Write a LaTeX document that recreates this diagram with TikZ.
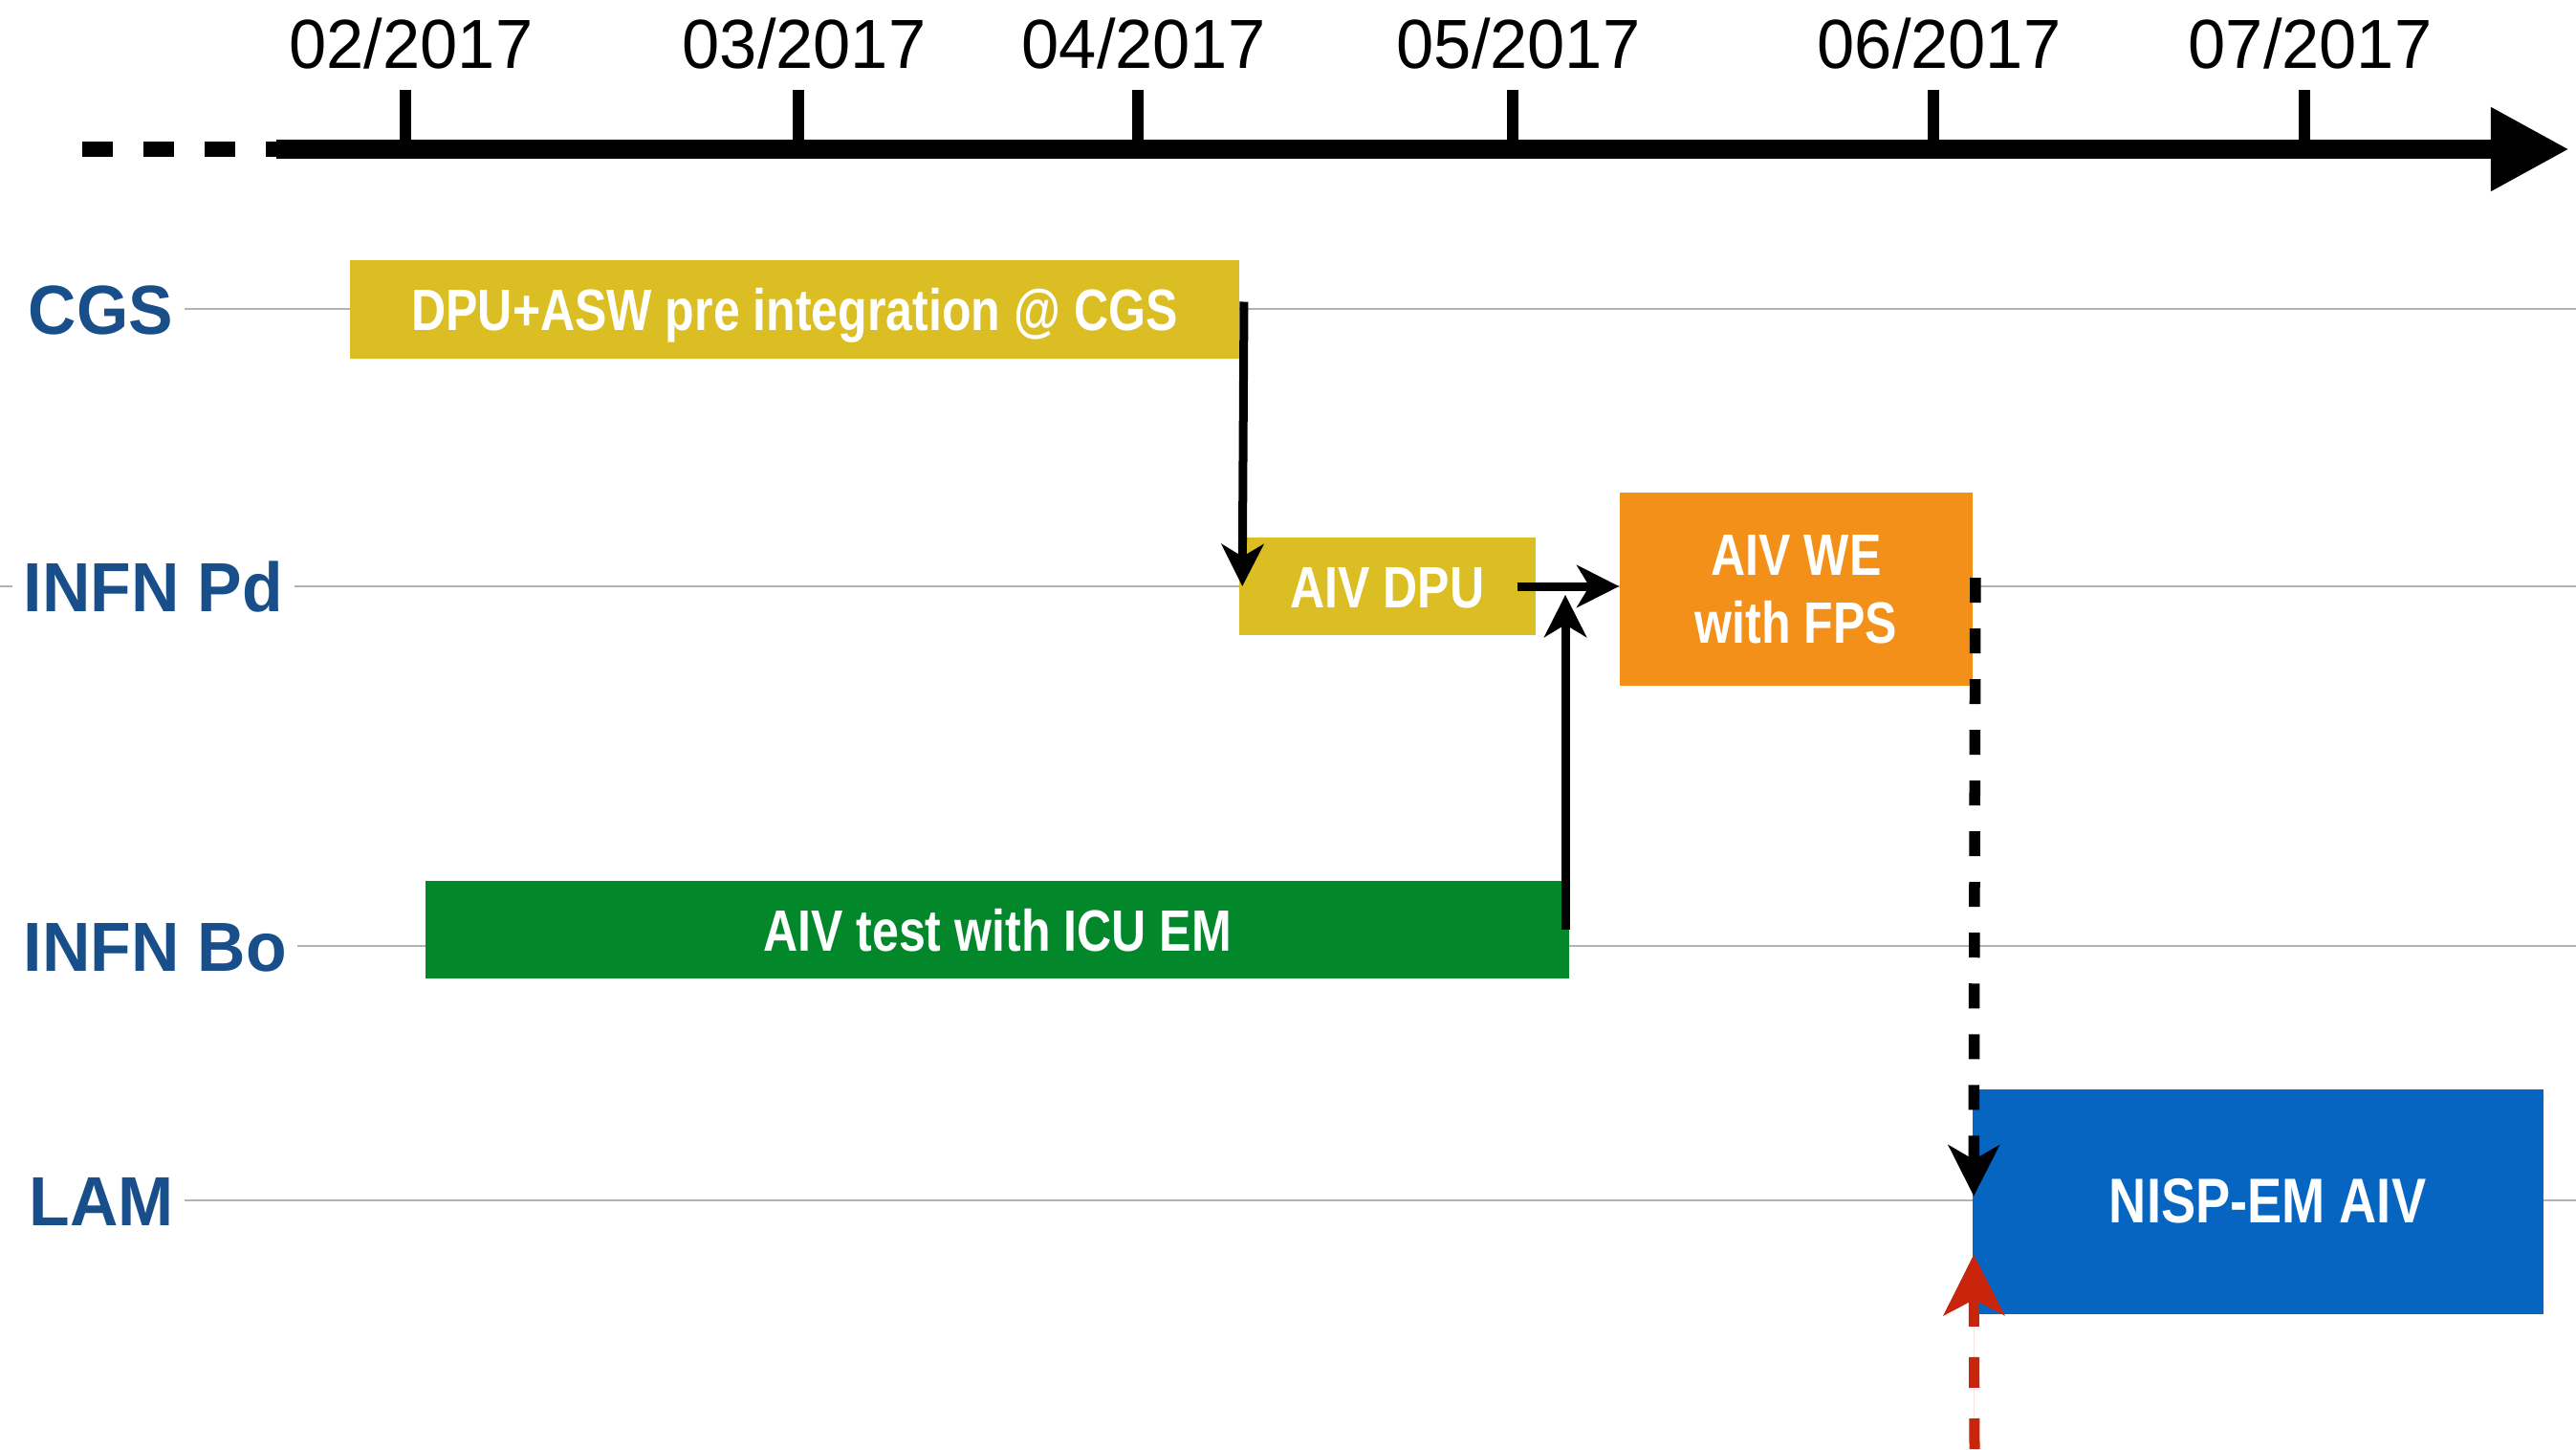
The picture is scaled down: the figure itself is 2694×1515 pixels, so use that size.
\documentclass[tikz,border=0pt]{standalone}
\usepackage{fontspec}
\setmainfont{Liberation Sans}
\newfontfamily\datefont[FakeStretch=0.97]{Liberation Sans}
\newfontfamily\rowfont[FakeStretch=0.96]{Liberation Sans}
\newfontfamily\taskfont[FakeStretch=0.82]{Liberation Sans}
\usetikzlibrary{arrows.meta,calc}
\definecolor{cgsyellow}{RGB}{219,190,36}
\definecolor{weorange}{RGB}{242,144,26}
\definecolor{icugreen}{RGB}{2,136,43}
\definecolor{lamblue}{RGB}{5,101,192}
\definecolor{rowblue}{RGB}{24,78,138}
\definecolor{rowgray}{RGB}{178,178,178}
\definecolor{arrred}{RGB}{200,37,12}

\begin{document}
\begin{tikzpicture}[x=0.01cm, y=-0.01cm,
  rowlabel/.style={anchor=west, inner xsep=0.11cm, inner ysep=0pt, text height=0.52cm, text depth=0pt, text=rowblue, font=\rowfont\bfseries\fontsize{20.66}{24}\selectfont},
  rowline/.style={draw=rowgray, line width=0.025cm},
  datelabel/.style={anchor=base, inner sep=0pt, font=\datefont\fontsize{20.66}{24}\selectfont},
  monthtick/.style={line width=0.12cm},
  taskbox/.style={inner sep=0pt, text=white, font=\taskfont\bfseries\fontsize{17.36}{20.2}\selectfont},
  oneline/.style={text height=0.44cm, text depth=0pt},
  flow/.style={line width=0.09cm, -{Stealth[length=0.44cm, width=0.44cm, inset=0.13cm]}},
  handover/.style={line width=0.115cm, dash pattern=on 0.26cm off 0.27cm, -{Stealth[length=0.53cm, width=0.53cm, inset=0.15cm]}},
  delivery/.style={draw=arrred, fill=arrred, line width=0.11cm, dash pattern=on 0.32cm off 0.32cm, -{Stealth[length=0.63cm, width=0.63cm, inset=0.16cm]}}]
  \useasboundingbox (0,0) rectangle (2694,1515);
  \coordinate (edge) at (2694,0);

  \coordinate (past) at (86,156);
  \coordinate (now) at (289,156);
  \coordinate (future) at (2687,156);
  \draw[line width=0.15cm, dash pattern=on 0.32cm off 0.32cm] (past) -- (now);
  \draw[monthtick] (424,94) -- (424,156);
  \draw[monthtick] (835,94) -- (835,156);
  \draw[monthtick] (1190,94) -- (1190,156);
  \draw[monthtick] (1582,94) -- (1582,156);
  \draw[monthtick] (2022,94) -- (2022,156);
  \draw[monthtick] (2410,94) -- (2410,156);
  \draw[line width=0.2cm, -{Triangle[length=0.82cm, width=0.82cm]}] (now) -- (future);
  \node[datelabel] (m02) at (430,71) {02/2017};
  \node[datelabel] (m03) at (841,71) {03/2017};
  \node[datelabel] (m04) at (1196,71) {04/2017};
  \node[datelabel] (m05) at (1588,71) {05/2017};
  \node[datelabel] (m06) at (2028,71) {06/2017};
  \node[datelabel] (m07) at (2416,71) {07/2017};

  \node[rowlabel] (cgs) at (18,323) {CGS};
  \node[rowlabel] (pd) at (13,613) {INFN Pd};
  \node[rowlabel] (bo) at (13,989) {INFN Bo};
  \node[rowlabel] (lam) at (19,1255) {LAM};
  \draw[rowline] (cgs.east) -- (cgs.east -| edge);
  \draw[rowline] (0,613) -- (pd.west);
  \draw[rowline] (pd.east) -- (pd.east -| edge);
  \draw[rowline] (bo.east) -- (bo.east -| edge);
  \draw[rowline] (lam.east) -- (lam.east -| edge);

  \node[taskbox, oneline, fill=cgsyellow, minimum width=9.3cm, minimum height=1.03cm] (cgsbox) at (831,323.5) {DPU+ASW pre integration @ CGS};
  \node[taskbox, oneline, fill=cgsyellow, minimum width=3.1cm, minimum height=1.02cm] (dpubox) at (1451,613) {AIV DPU};
  \node[taskbox, fill=weorange, minimum width=3.69cm, minimum height=2.02cm, align=center] (webox) at (1878.5,616) {AIV WE\\with FPS};
  \node[taskbox, oneline, fill=icugreen, minimum width=11.96cm, minimum height=1.02cm] (icubox) at (1043,972) {AIV test with ICU EM};
  \node[taskbox, oneline, fill=lamblue, minimum width=5.97cm, minimum height=2.35cm, font=\taskfont\bfseries\fontsize{18.8}{22}\selectfont] (nispbox) at (2361.5,1256.5) {\hspace*{0.2cm}NISP-EM AIV};

  \draw[flow] ($(cgsbox.east)+(4,-8)$) -- ($(dpubox.west)+(4,0)$);
  \draw[flow] ($(dpubox.east)+(-20,0)$) -- (dpubox.east -| webox.west);
  \coordinate (join) at ($(icubox.east |- dpubox.east)+(-5,9)$);
  \draw[flow] ($(icubox.east)+(-5,0)$) -- (join);
  \draw[handover] ($(webox.east)+(2,-12)$) -- ($(nispbox.west)+(2,-6)$);
  \coordinate (bottom) at (2065,1515);
  \draw[delivery] (bottom) -- ($(nispbox.south west)+(2,-63)$);
\end{tikzpicture}
\end{document}
